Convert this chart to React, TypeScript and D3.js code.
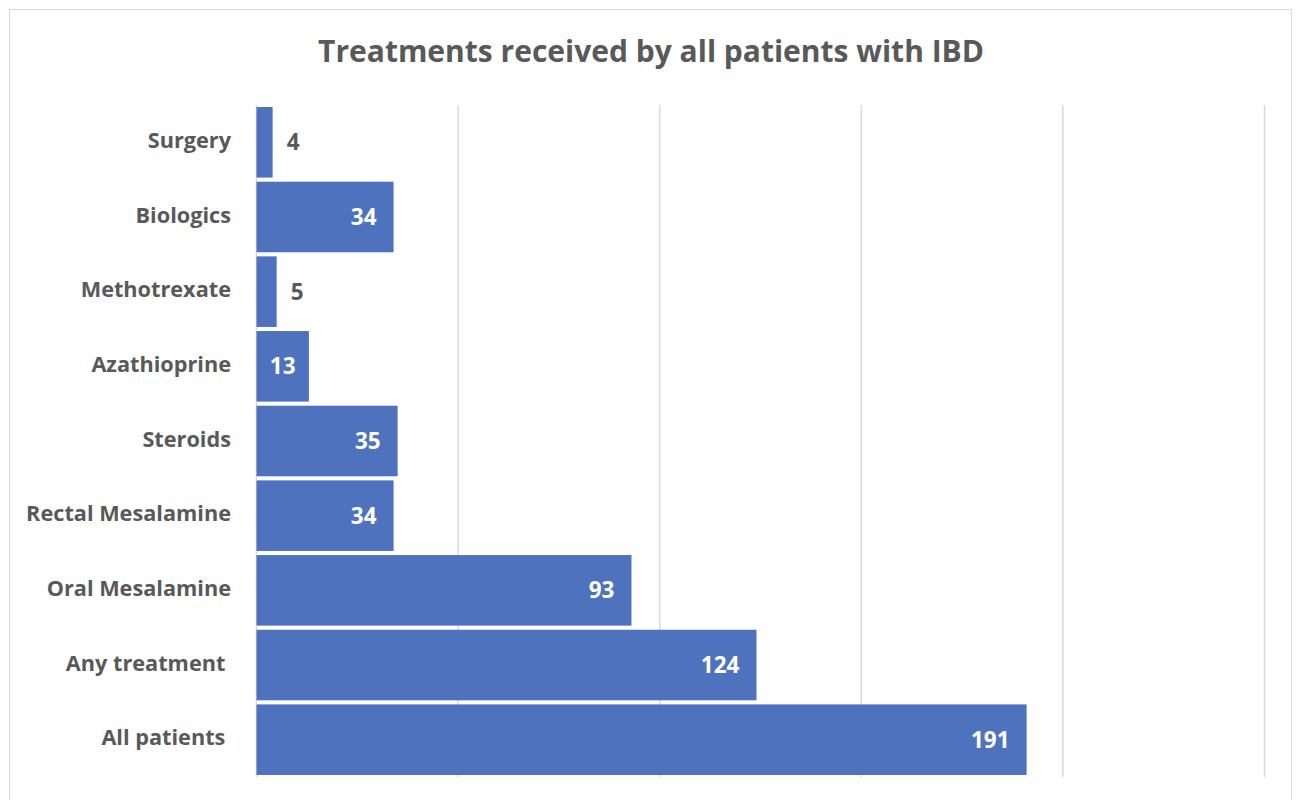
import React, { useEffect, useRef } from 'react';
import * as d3 from 'd3';

const categories = [
  'Surgery',
  'Biologics',
  'Methotrexate',
  'Azathioprine',
  'Steroids',
  'Rectal Mesalamine',
  'Oral Mesalamine',
  'Any treatment ',
  'All patients ',
];
const counts = [4, 34, 5, 13, 35, 34, 93, 124, 191];
const xTicks = [0, 50, 100, 150, 200, 250];
const title = 'Treatments received by all patients with IBD';

const App = () => {
  const ref = useRef<SVGSVGElement | null>(null);

  useEffect(() => {
    document.body.style.margin = '0';
    const svg = d3.select(ref.current);
    svg.selectAll('*').remove();

    const font = '"Open Sans", Lato, sans-serif';
    const textColor = '#595959';
    const barColor = '#4E72BE';

    const x = d3.scaleLinear().domain([0, 250]).range([256.5, 1264.5]);
    const y = d3.scaleBand().domain(categories).range([105, 777]).paddingInner(0.055).paddingOuter(0.027);

    // chart border
    svg.append('rect')
      .attr('x', 9.5).attr('y', 9.5)
      .attr('width', 1282).attr('height', 800)
      .attr('fill', '#fff')
      .attr('stroke', '#d9d9d9');

    svg.append('text')
      .attr('x', 651).attr('y', 62)
      .attr('text-anchor', 'middle')
      .attr('font-family', font)
      .attr('font-weight', 700)
      .attr('font-size', 30)
      .attr('fill', textColor)
      .text(title);

    // gridlines
    svg.append('g')
      .selectAll('line')
      .data(xTicks)
      .join('line')
      .attr('x1', d => x(d)).attr('x2', d => x(d))
      .attr('y1', 105).attr('y2', 777)
      .attr('stroke', '#d9d9d9')
      .attr('stroke-width', 1.5);

    const data = categories.map((c, i) => ({ c, v: counts[i] }));

    svg.append('g')
      .selectAll('rect')
      .data(data)
      .join('rect')
      .attr('x', x(0))
      .attr('y', d => y(d.c)!)
      .attr('width', d => x(d.v) - x(0))
      .attr('height', y.bandwidth())
      .attr('fill', barColor);

    // category labels
    svg.append('g')
      .selectAll('text')
      .data(data)
      .join('text')
      .attr('x', 231)
      .attr('y', d => y(d.c)! + y.bandwidth() / 2 - 2)
      .attr('dy', '0.35em')
      .attr('text-anchor', 'end')
      .attr('font-family', font)
      .attr('font-weight', 700)
      .attr('font-size', 21.7)
      .attr('fill', textColor)
      .style('white-space', 'pre')
      .text(d => d.c);

    // value labels: outside for tiny bars, centred for narrow ones, inside end otherwise
    const place = (v: number) => {
      const w = x(v) - x(0);
      return w < 25 ? 'out' : w < 70 ? 'mid' : 'end';
    };

    svg.append('g')
      .selectAll('text')
      .data(data)
      .join('text')
      .attr('x', d => {
        const p = place(d.v);
        if (p === 'out') return x(d.v) + 14;
        if (p === 'mid') return (x(0) + x(d.v)) / 2;
        return x(d.v) - 17;
      })
      .attr('y', d => y(d.c)! + y.bandwidth() / 2)
      .attr('dy', '0.35em')
      .attr('text-anchor', d => {
        const p = place(d.v);
        return p === 'out' ? 'start' : p === 'mid' ? 'middle' : 'end';
      })
      .attr('font-family', font)
      .attr('font-weight', 700)
      .attr('font-size', 22.5)
      .attr('fill', d => (place(d.v) === 'out' ? textColor : '#fff'))
      .text(d => d.v);
  }, []);

  return <svg ref={ref} width={1296} height={800} style={{ display: 'block' }} />;
};

export default App;
